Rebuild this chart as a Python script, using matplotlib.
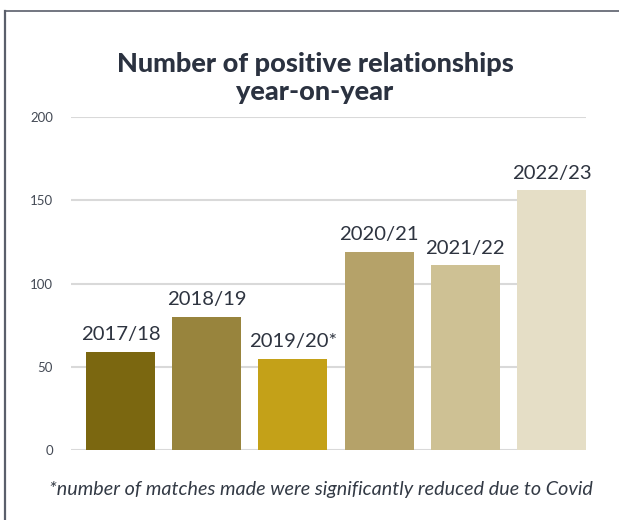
import matplotlib
matplotlib.use("Agg")
import matplotlib.pyplot as plt
from matplotlib.lines import Line2D

plt.rcParams['font.family'] = ['Lato', 'DejaVu Sans']

categories = ["2017/18", "2018/19", "2019/20*", "2020/21", "2021/22", "2022/23"]
values = [59, 80, 55, 119, 111, 156]
colors = ["#7b6710", "#98843d", "#c4a118", "#b5a269", "#cec194", "#e5dec6"]
yticks = [0, 50, 100, 150, 200]
title = "Number of positive relationships\nyear-on-year"
footnote = "*number of matches made were significantly reduced due to Covid"

fig = plt.figure(figsize=(6.19, 5.20), dpi=100)
ax = fig.add_axes([71/619, 70/520, 515/619, 332.7/520])

x = list(range(len(categories)))
bars = ax.bar(x, values, width=0.8, color=colors, zorder=2)
for xi, v, lab in zip(x, values, categories):
    ax.annotate(lab, (xi, v), xytext=(0, 8.5), textcoords="offset points",
                ha="center", va="baseline", fontsize=14.6, color="#2e3440")

ax.set_ylim(0, 200)
ax.set_xlim(-0.574, 5.4)
ax.set_yticks(yticks)
ax.set_xticks([])
ax.yaxis.grid(True, color="#d9d9d9", linewidth=1.5, zorder=0)
ax.set_axisbelow(True)
for s in ax.spines.values():
    s.set_visible(False)
ax.tick_params(axis="y", length=0, pad=13, labelsize=9.5, labelcolor="#444a55")

fig.text(315/619, 1 - 100/520, title, ha="center", va="baseline", fontsize=19.5,
         fontweight="black", color="#2b3240", linespacing=1.22)
fig.text(321/619, 1 - 495/520, footnote, ha="center", va="baseline", fontsize=14.2,
         style="italic", color="#333a45")

fig.add_artist(Line2D([4.5/619, 4.5/619], [0, 1 - 10.5/520], transform=fig.transFigure,
                      color="#5a5f6b", linewidth=1.6))
fig.add_artist(Line2D([4.5/619, 1], [1 - 10.5/520, 1 - 10.5/520], transform=fig.transFigure,
                      color="#5a5f6b", linewidth=1.2))

fig.savefig("out.png", dpi=100)
